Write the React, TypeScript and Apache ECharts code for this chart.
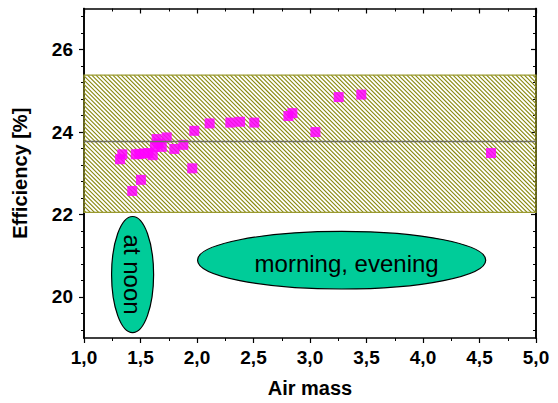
import React, { useEffect, useRef } from 'react';
import * as echarts from 'echarts';

// Measured data (air mass vs. efficiency)
const airMass = [1.319, 1.339, 1.427, 1.458, 1.49, 1.504, 1.534, 1.57, 1.608, 1.628, 1.643, 1.66, 1.688, 1.732, 1.80, 1.879, 1.958, 1.976, 2.112, 2.295, 2.381, 2.507, 2.809, 2.844, 3.048, 3.254, 3.454, 4.602];
const efficiency = [23.34, 23.46, 22.57, 23.46, 23.47, 22.84, 23.48, 23.49, 23.44, 23.64, 23.83, 23.72, 23.64, 23.87, 23.59, 23.69, 23.12, 24.03, 24.21, 24.23, 24.25, 24.23, 24.39, 24.46, 24.00, 24.85, 24.91, 23.49];

// Band and mean
const bandLow = 22.05;
const bandHigh = 25.38;
const meanEff = 23.77;

// Axis ticks
const yMajorTicks = [20, 22, 24, 26];
const yMinorTicks = [19.2, 19.6, 20.4, 20.8, 21.2, 21.6, 22.4, 22.8, 23.2, 23.6, 24.4, 24.8, 25.2, 25.6, 26.4, 26.8];

// Annotations (data units: center x, center y, radius x, radius y)
const noonEllipse = [1.43, 20.54, 0.186, 1.41];
const morningEllipse = [3.28, 20.89, 1.275, 0.70];
const noonLabel = 'at noon';
const morningLabel = 'morning, evening';

const FONT = '"Liberation Sans", Arial, sans-serif';

export default function App() {
  const ref = useRef<HTMLDivElement>(null);
  useEffect(() => {
    if (!ref.current) return;
    const chart = echarts.init(ref.current, null, { renderer: 'svg' });
    const baseX = {
      type: 'value', min: 1, max: 5, interval: 0.5,
      axisLine: { show: true, lineStyle: { color: '#000', width: 1.6 } },
      splitLine: { show: false },
    };
    const baseY = {
      type: 'value', min: 19, max: 27,
      axisLine: { show: true, lineStyle: { color: '#000', width: 1.6 } },
      splitLine: { show: false },
    };
    const option: any = {
      animation: false,
      backgroundColor: '#fff',
      grid: { left: 84, right: 22, top: 8.5, bottom: 65, outerBoundsMode: 'none', containLabel: false },
      xAxis: [
        {
          ...baseX, position: 'bottom',
          name: 'Air mass', nameLocation: 'middle', nameGap: 40,
          nameTextStyle: { fontFamily: FONT, fontWeight: 'bold', fontSize: 20, color: '#000' },
          axisTick: { show: true, inside: false, length: 5, lineStyle: { color: '#000', width: 1.2 } },
          minorTick: { show: true, splitNumber: 2, length: 3, lineStyle: { color: '#000', width: 1 } },
          axisLabel: {
            show: true, margin: 10, fontFamily: FONT, fontWeight: 'bold', fontSize: 19, color: '#000',
            formatter: (v: number) => v.toFixed(1).replace('.', ','),
          },
        },
        {
          ...baseX, position: 'top',
          axisTick: { show: true, inside: true, length: 5, lineStyle: { color: '#000', width: 1.2 } },
          minorTick: { show: true, splitNumber: 2, length: 3, lineStyle: { color: '#000', width: 1 } },
          axisLabel: { show: false },
        },
      ],
      yAxis: [
        {
          ...baseY, position: 'left',
          name: 'Efficiency [%]', nameLocation: 'middle', nameGap: 54,
          nameTextStyle: { fontFamily: FONT, fontWeight: 'bold', fontSize: 20, color: '#000' },
          axisTick: { show: true, inside: false, length: 5, customValues: yMajorTicks, lineStyle: { color: '#000', width: 1.2 } },
          axisLabel: { show: true, margin: 11, customValues: yMajorTicks, fontFamily: FONT, fontWeight: 'bold', fontSize: 19, color: '#000' },
        },
        {
          ...baseY, position: 'left',
          axisTick: { show: true, inside: false, length: 3, customValues: yMinorTicks, lineStyle: { color: '#000', width: 1 } },
          axisLabel: { show: false },
        },
        {
          ...baseY, position: 'right',
          axisTick: { show: true, inside: true, length: 5, customValues: yMajorTicks, lineStyle: { color: '#000', width: 1.2 } },
          axisLabel: { show: false },
        },
        {
          ...baseY, position: 'right',
          axisTick: { show: true, inside: true, length: 3, customValues: yMinorTicks, lineStyle: { color: '#000', width: 1 } },
          axisLabel: { show: false },
        },
      ],
      series: [
        {
          type: 'custom',
          xAxisIndex: 0, yAxisIndex: 0,
          silent: true,
          z: 1,
          data: [[1, bandLow, 5, bandHigh]],
          encode: { x: [0, 2], y: [1, 3] },
          renderItem: (params: any, api: any) => {
            const tl = api.coord([api.value(0), api.value(3)]);
            const br = api.coord([api.value(2), api.value(1)]);
            const x0 = tl[0], y0 = tl[1], x1 = br[0], y1 = br[1];
            const children: any[] = [];
            const step = 4.2;
            for (let c = x0 - y1 + step / 2; c < x1 - y0; c += step) {
              const sx = Math.max(x0, c + y0);
              const ex = Math.min(x1, c + y1);
              if (ex <= sx) continue;
              children.push({
                type: 'line',
                shape: { x1: sx, y1: sx - c, x2: ex, y2: ex - c },
                style: { stroke: '#86860a', lineWidth: 1.1 },
              });
            }
            children.push({
              type: 'rect',
              shape: { x: x0, y: y0, width: x1 - x0, height: y1 - y0 },
              style: { fill: 'none', stroke: '#9a9a30', lineWidth: 1.2 },
            });
            return { type: 'group', children };
          },
        },
        {
          type: 'scatter',
          xAxisIndex: 0, yAxisIndex: 0,
          symbol: 'rect', symbolSize: 10,
          itemStyle: { color: '#ff00ff', opacity: 0.85 },
          data: airMass.map((x, i) => [x, efficiency[i]]),
          z: 2,
        },
        {
          type: 'line',
          xAxisIndex: 0, yAxisIndex: 0,
          symbol: 'none',
          lineStyle: { color: '#6e6e62', width: 1.6 },
          data: [[1, meanEff], [5, meanEff]],
          z: 4,
        },
      ],
    };
    chart.setOption(option);

    const toPx = (e: number[]) => {
      const c = chart.convertToPixel({ xAxisIndex: 0, yAxisIndex: 0 }, [e[0], e[1]]) as number[];
      const r = chart.convertToPixel({ xAxisIndex: 0, yAxisIndex: 0 }, [e[0] + e[2], e[1] + e[3]]) as number[];
      return { cx: c[0], cy: c[1], rx: Math.abs(r[0] - c[0]), ry: Math.abs(c[1] - r[1]) };
    };
    const n = toPx(noonEllipse);
    const m = toPx(morningEllipse);
    chart.setOption({
      graphic: [
        { type: 'ellipse', z: 10, shape: { cx: n.cx, cy: n.cy, rx: n.rx, ry: n.ry }, style: { fill: '#00cc99', stroke: '#000', lineWidth: 1.2 } },
        {
          type: 'text', z: 11, x: n.cx, y: n.cy, rotation: -Math.PI / 2,
          style: { text: noonLabel, fontFamily: FONT, fontSize: 24, fill: '#000', align: 'center', verticalAlign: 'middle' },
        },
        { type: 'ellipse', z: 10, shape: { cx: m.cx, cy: m.cy, rx: m.rx, ry: m.ry }, style: { fill: '#00cc99', stroke: '#000', lineWidth: 1.2 } },
        {
          type: 'text', z: 11, x: m.cx + 5, y: m.cy + 3,
          style: { text: morningLabel, fontFamily: FONT, fontSize: 24, fill: '#000', align: 'center', verticalAlign: 'middle' },
        },
      ],
    });
    return () => chart.dispose();
  }, []);
  return <div ref={ref} style={{ position: 'fixed', left: 0, top: 0, width: 558, height: 403 }} />;
}
